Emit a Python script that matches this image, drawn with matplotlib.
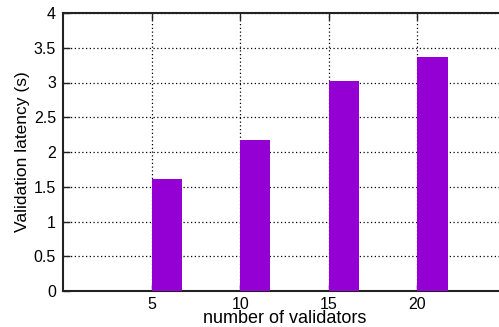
import matplotlib.pyplot as plt

# data
validators = [5, 10, 15, 20]
latency = [1.61, 2.17, 3.02, 3.37]
yticks = [0, 0.5, 1, 1.5, 2, 2.5, 3, 3.5, 4]
ytick_labels = ['0', '0.5', '1', '1.5', '2', '2.5', '3', '3.5', '4']

plt.rcParams['font.family'] = ['Liberation Sans', 'DejaVu Sans']

fig = plt.figure(figsize=(4.99, 3.27), dpi=100)
ax = fig.add_axes([63 / 499, 36 / 327, 443 / 499, 278 / 327])

ax.bar(validators, latency, width=1.7, align='edge', color='#9400d3', zorder=3)

ax.set_xlim(0, 25)
ax.set_ylim(0, 4)
ax.set_xticks(validators)
ax.set_yticks(yticks)
ax.set_yticklabels(ytick_labels)

ax.grid(True, color='black', linestyle=(0, (1, 2)), linewidth=0.9, zorder=0)
ax.tick_params(direction='in', length=5, width=1, labelsize=11.5, top=True,
               colors='#222222', labelcolor='black', pad=5)
ax.tick_params(axis='x', pad=4)
for side in ['left', 'bottom', 'top']:
    ax.spines[side].set_linewidth(1.5)
    ax.spines[side].set_color('#222222')
ax.spines['right'].set_visible(False)

ax.set_xlabel('number of validators', fontsize=13, labelpad=-1)
ax.set_ylabel('Validation latency (s)', fontsize=12.5, labelpad=3)

fig.savefig('out.png', dpi=100)
